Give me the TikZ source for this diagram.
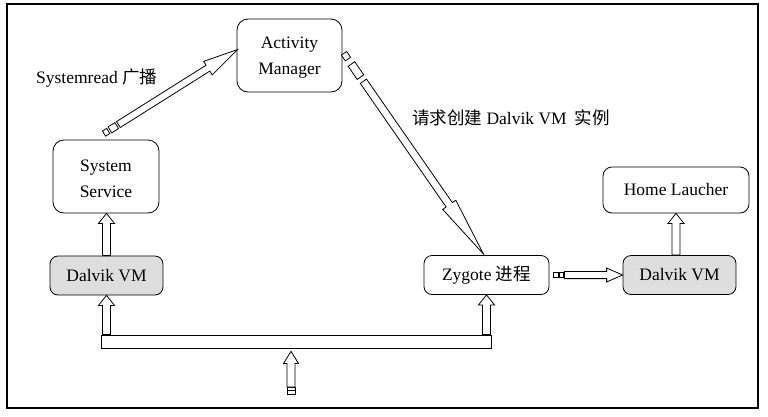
\documentclass[tikz,border=0pt]{standalone}
\usepackage{fontspec}
\setmainfont{Liberation Serif}
\newfontfamily\cjk{Noto Sans CJK SC}
\usetikzlibrary{calc}
\definecolor{vmgray}{RGB}{222,222,222}
\tikzset{
  box/.style={draw, line width=0.8pt, rounded corners=11pt, fill=white, align=center, inner sep=0pt,
    font=\fontsize{17.5}{26}\selectfont},
  vmbox/.style={box, rounded corners=8pt, fill=vmgray},
  lbl/.style={inner sep=0pt, font=\fontsize{17.5}{20}\selectfont},
  blk/.style={draw, line width=0.8pt, fill=white, line join=miter},
}
% rectangle piece along A->B from distance s1 to s2, half width w
\newcommand\tailbox[5]{%
  \coordinate (tbp) at ($(#1)!#3pt!(#2)$);
  \coordinate (tbq) at ($(#1)!#4pt!(#2)$);
  \draw[blk] ($(tbp)!#5pt!90:(#2)$) -- ($(tbq)!#5pt!-90:(#1)$) -- ($(tbq)!#5pt!90:(#1)$) -- ($(tbp)!#5pt!-90:(#2)$) -- cycle;
}
% hollow block arrow A->B, shaft starting at distance s0, half shaft w, half head h, head length l
\newcommand\barrow[6]{%
  \coordinate (bb0) at ($(#1)!#3pt!(#2)$);
  \coordinate (bb1) at ($(#2)!#6pt!(#1)$);
  \draw[blk] ($(bb0)!#4pt!90:(#2)$) -- ($(bb1)!#4pt!-90:(#1)$) -- ($(bb1)!#5pt!-90:(#1)$) -- (#2)
    -- ($(bb1)!#5pt!90:(#1)$) -- ($(bb1)!#4pt!90:(#1)$) -- ($(bb0)!#4pt!-90:(#2)$) -- cycle;
}
\newcommand\topstrut{\rule{0pt}{16.5pt}}
\begin{document}
\begin{tikzpicture}[x=1pt,y=-1pt]
\useasboundingbox (0,0) rectangle (768,416);
\draw[line width=1.3pt] (7,4) rectangle (758,408);

\node[box, minimum width=105pt, minimum height=73pt] (am) at (289.5,55.5) {\topstrut Activity\\Manager};
\node[box, minimum width=106pt, minimum height=73pt] (ss) at (106,176.5) {\topstrut System\\Service};
\node[vmbox, minimum width=113pt, minimum height=39pt] (dvl) at (106.5,275.5) {Dalvik VM};
\node[box, rounded corners=8pt, minimum width=125pt, minimum height=39pt] (zy) at (486.5,275) {Zygote {\cjk 进程}};
\node[vmbox, minimum width=113pt, minimum height=39pt] (dvr) at (679.5,275) {Dalvik VM};
\node[box, rounded corners=9pt, minimum width=146pt, minimum height=46pt] (hl) at (676,190) {Home Laucher};
\node[draw, line width=0.8pt, fill=white, inner sep=0pt, minimum width=390pt, minimum height=13pt] (bar) at (296,341.5) {};

\node[lbl, anchor=west] (l1) at (36,78) {Systemread {\cjk 广播}};
\node[lbl, anchor=west] (l2) at (412,118) {{\cjk 请求创建} Dalvik VM\hspace{8pt}{\cjk 实例}};

% System Service -> Activity Manager
\coordinate (a1s) at ($(ss.north)+(-2,-6)$);
\coordinate (a1e) at ($(am.west)+(1,-6)$);
\tailbox{a1s}{a1e}{0}{5}{3}
\tailbox{a1s}{a1e}{7}{15}{3.5}
\barrow{a1s}{a1e}{17}{3.5}{8}{35}

% Activity Manager -> Zygote
\coordinate (a2s) at ($(am.east)+(1,-3)$);
\coordinate (a2e) at ($(zy.north)+(-3,-1)$);
\tailbox{a2s}{a2e}{1}{8}{3.2}
\tailbox{a2s}{a2e}{14}{30}{4}
\barrow{a2s}{a2e}{35}{3.8}{8}{60}

% Zygote -> Dalvik VM (right)
\tailbox{zy.east}{dvr.west}{3.5}{8.5}{2.8}
\tailbox{zy.east}{dvr.west}{9.5}{14}{2.8}
\barrow{zy.east}{dvr.west}{15}{3.6}{7}{16}

% vertical arrows
\barrow{dvl.north}{dvl.north |- ss.south}{0}{4}{8}{10}
\barrow{dvl.south |- bar.north}{dvl.south}{0}{4}{8}{10}
\barrow{zy.south |- bar.north}{zy.south}{0}{4}{8}{10}
\barrow{hl.south |- dvr.north}{hl.south}{0}{4}{8}{10}

% bottom input arrow
\coordinate (in) at (291,394);
\coordinate (inb) at ($(in |- bar.south)+(0,3)$);
\tailbox{in}{inb}{0}{3.5}{4}
\tailbox{in}{inb}{3.5}{7}{4}
\barrow{in}{inb}{7}{4}{7.5}{12}
\end{tikzpicture}
\end{document}
